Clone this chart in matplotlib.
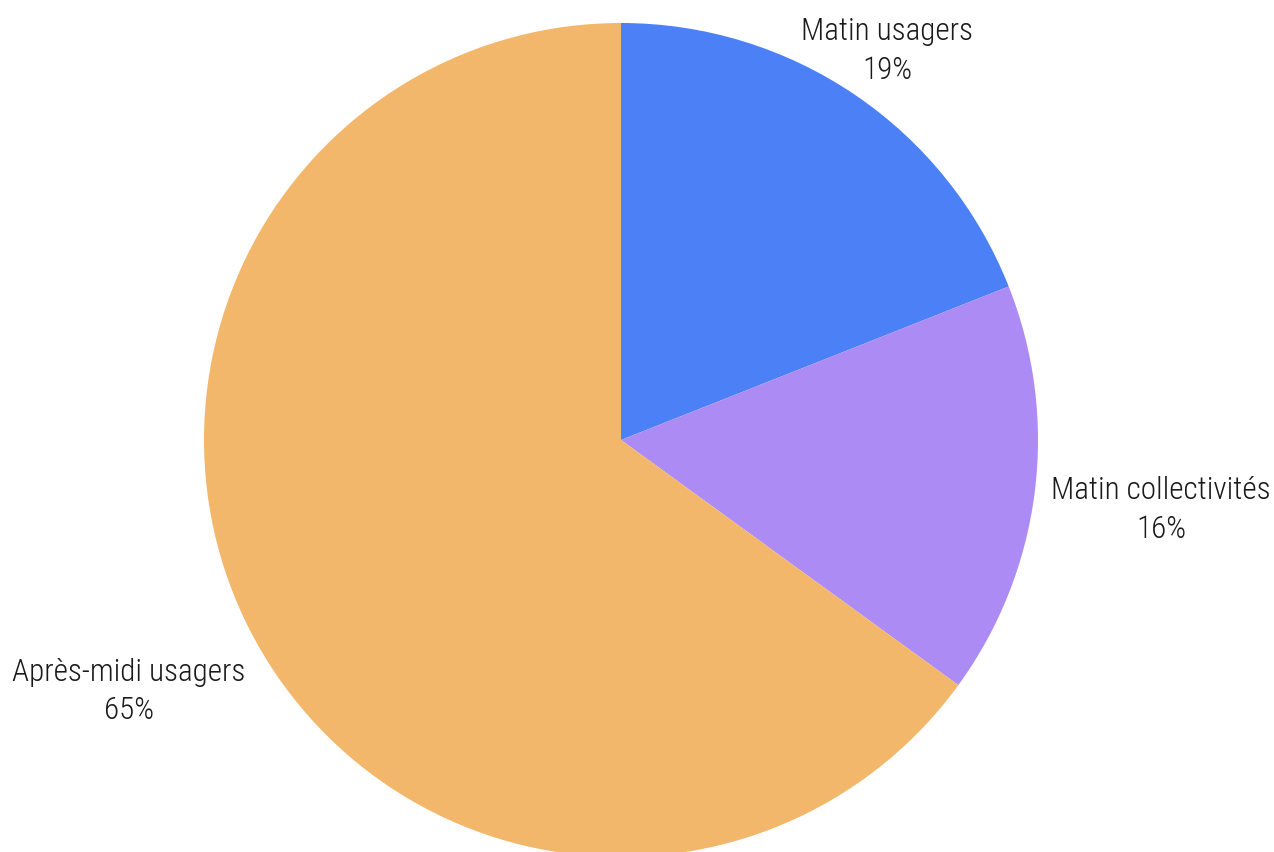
import numpy as np
import matplotlib.pyplot as plt

# parts of the day, clockwise from 12 o'clock
categories = ['Matin usagers', 'Matin collectivités', 'Après-midi usagers']
shares = [19, 16, 65]
colors = ['#4b80f7', '#ac8cf4', '#f2b76b']

# label centres in radius units (radius = 1)
label_pos = [(0.638, 0.933), (1.295, -0.168), (-1.180, -0.604)]

W, H = 1274, 852
cx, cy, R = 621, 440, 417

fig = plt.figure(figsize=(W / 100, H / 100), dpi=100)
ax = fig.add_axes([0, 0, 1, 1])

wedges, _ = ax.pie(shares, colors=colors, startangle=90, counterclock=False,
                   radius=1, wedgeprops=dict(linewidth=0))

# pie() resets the view, so set it afterwards
ax.set_xlim(-cx / R, (W - cx) / R)
ax.set_ylim(-(H - cy) / R, cy / R)
ax.set_aspect('equal')
ax.axis('off')

for name, val, (x, y) in zip(categories, shares, label_pos):
    ax.text(x, y, f'{name}\n{val}%', ha='center', va='center',
            multialignment='center', fontsize=22.4, color='#1a1a1a',
            family=['Roboto Condensed', 'Liberation Sans Narrow', 'Roboto'],
            fontweight='light', linespacing=1.4)

fig.savefig('out.png', dpi=100, facecolor='white')
